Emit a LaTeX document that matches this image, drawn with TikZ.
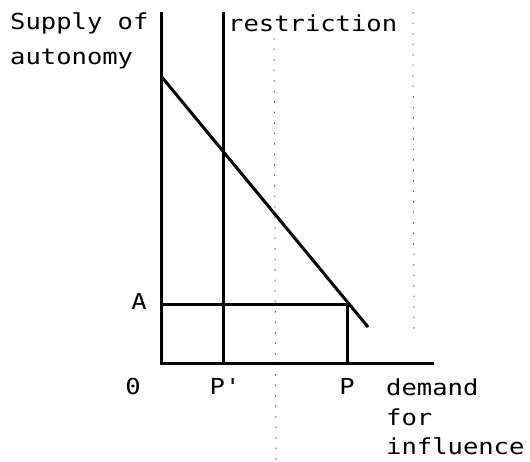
\documentclass[tikz,border=0pt]{standalone}
\usepackage{fontspec}
\setmonofont[FakeStretch=1.16]{DejaVu Sans Mono}
\begin{document}
\begin{tikzpicture}[x=1pt,y=-1pt,
  axis/.style={line width=3pt},
  lbl/.style={font=\ttfamily\fontsize{22}{35}\selectfont, inner sep=0pt, align=left},
  lbltight/.style={lbl, font=\ttfamily\fontsize{22}{29.5}\selectfont},
  scanmark/.style={line width=1pt, black!60, dash pattern=on 1.5pt off 9pt}]
\useasboundingbox (0,0) rectangle (530,461);
% coordinates
\coordinate (ytop) at (161,12);
\coordinate (o) at (161,363);
\coordinate (xend) at (434,363);
\coordinate (pptop) at (223,12);
\coordinate (ppbot) at (223,363);
\coordinate (aleft) at (161,304);
\coordinate (acorner) at (347,304);
\coordinate (pbot) at (347,363);
\coordinate (dstart) at (161,76);
\coordinate (dend) at (368,327);
\coordinate (s1top) at (274,38);
\coordinate (s1bot) at (276,461);
\coordinate (s2top) at (413,12);
\coordinate (s2bot) at (414,330);
% scan marks
\draw[scanmark] (s1top) -- (s1bot);
\draw[scanmark] (s2top) -- (s2bot);
% lines
\draw[axis] (ytop) -- (o) -- (xend);
\draw[axis] (pptop) -- (ppbot);
\draw[axis] (aleft) -- (acorner) -- (pbot);
\draw[axis] (dstart) -- (dend);
% labels
\node[lbl, anchor=north west] (supply) at (10,12) {Supply of\\autonomy};
\node[lbl, anchor=base west] (restr) at (228,31) {restriction};
\node[lbl, anchor=base] (alab) at (139,309) {A};
\node[lbl, anchor=base] (olab) at (133,394) {0};
\node[lbl, anchor=base] (pplab) at (225,394) {P'};
\node[lbl, anchor=base] (plab) at (347,394) {P};
\node[lbltight, anchor=north west] (demand) at (386,379) {demand\\for\\influence};
\end{tikzpicture}
\end{document}
